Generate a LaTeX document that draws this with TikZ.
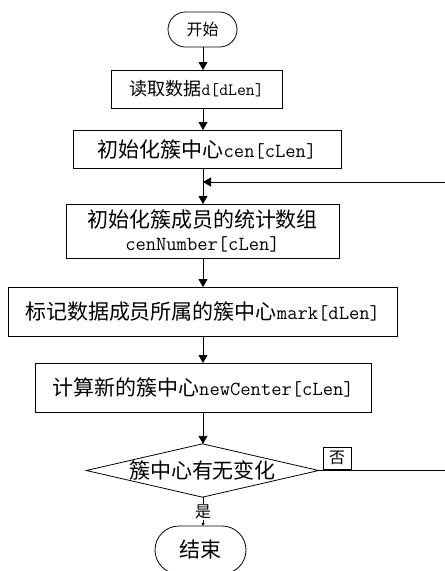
\documentclass[tikz,border=0pt]{standalone}
\usepackage{fontspec}
\newfontfamily\cjk{Noto Sans CJK SC}[Scale=1.05]
\usetikzlibrary{arrows.meta,shapes.geometric,shapes.misc}
\newcommand\zh[1]{{\cjk #1}}
\begin{document}
\begin{tikzpicture}[x=1pt,y=-1pt,
  line width=0.8pt,
  every node/.style={inner sep=0pt, outer sep=0pt},
  box/.style={draw, rectangle, align=center, font=\fontsize{20}{23}\selectfont\ttfamily},
  term/.style={draw, rounded rectangle, font=\fontsize{20}{23}\selectfont\cjk},
  arr/.style={-{Triangle[length=8pt,width=9pt]}},
  smallarr/.style={-{Triangle[length=3pt,width=3pt]}}
]
\useasboundingbox (0,0) rectangle (445,571);
\clip (0,0) rectangle (445,571);

\coordinate (ax) at (203,0);

\node[term, minimum width=69pt, minimum height=35pt, font=\fontsize{15.2}{18}\selectfont\cjk] (start) at (202.5,29.5) {开始};
\node[box, minimum width=171pt, minimum height=38pt, font=\fontsize{17.2}{20}\selectfont\ttfamily] (b1) at (196.5,89) {\zh{读取数据}d[dLen]};
\node[box, minimum width=268pt, minimum height=38pt] (b2) at (207,149) {\zh{初始化簇中心}cen[cLen]};
\node[box, minimum width=273pt, minimum height=54pt] (b3) at (202.5,231) {\zh{初始化簇成员的统计数组}\\cenNumber[cLen]};
\node[box, minimum width=389pt, minimum height=49pt] (b4) at (202.5,311.5) {\zh{标记数据成员所属的簇中心}mark[dLen]};
\node[box, minimum width=336pt, minimum height=49pt] (b5) at (203,387.5) {\zh{计算新的簇中心}newCenter[cLen]};
\node[draw, diamond, aspect=4.36, minimum width=231pt, minimum height=53pt, font=\fontsize{20}{23}\selectfont\cjk] (dia) at (202.5,470.5) {簇中心有无变化};
\node[term, minimum width=91pt, minimum height=48pt] (end) at (200.5,550) {结束};

\node[draw, minimum width=28pt, minimum height=22pt, font=\fontsize{15.2}{18}\selectfont\cjk] (no) at (337,458) {否};

\coordinate (fbr) at (452,470.5);
\coordinate (fb) at (203,182);

\draw[arr] (start.south -| ax) -- (b1.north -| ax);
\draw[arr] (b1.south -| ax) -- (b2.north -| ax);
\draw[arr] (b2.south -| ax) -- (b3.north -| ax);
\draw[arr] (b3.south -| ax) -- (b4.north -| ax);
\draw[arr] (b4.south -| ax) -- (b5.north -| ax);
\draw[arr] (b5.south -| ax) -- (dia.north -| ax);
\draw[smallarr] (dia.south -| ax) -- (end.north -| ax)
  node[pos=0.5, fill=white, inner sep=1pt, font=\fontsize{15.2}{18}\selectfont\cjk] (yes) {是};
\draw[arr] (dia.east) -- (fbr) |- (fb);
\end{tikzpicture}
\end{document}
